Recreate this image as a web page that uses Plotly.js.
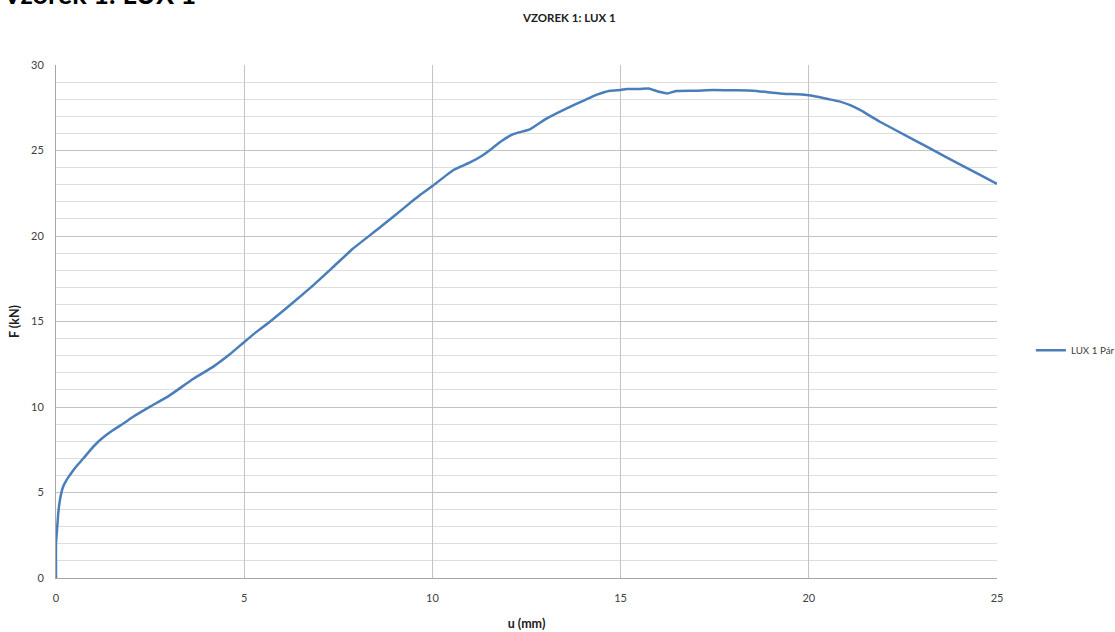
<!DOCTYPE html>
<html>
<head>
<meta charset="utf-8">
<script src="https://cdn.plot.ly/plotly-3.0.1.min.js"></script>
<style>html,body{margin:0;padding:0;background:#fff;overflow:hidden}#chart{width:1115px;height:632px}</style>
</head>
<body>
<div id="chart"></div>
<script>
// Displacement u (mm)
const uValues = [0, 0.0, 0.03, 0.06, 0.1, 0.15, 0.2, 0.28, 0.37, 0.46, 0.6, 0.73, 0.9, 1.08, 1.3, 1.52, 1.8, 2.05, 2.5, 3.0, 3.65, 4.18, 4.6, 4.98, 5.3, 5.69, 6.22, 6.84, 7.37, 7.9, 8.52, 9.0, 9.5, 9.67, 10.0, 10.56, 11.0, 11.35, 11.6, 11.8, 12.15, 12.59, 13.04, 13.57, 14.05, 14.35, 14.72, 15.0, 15.16, 15.5, 15.74, 15.87, 16.05, 16.24, 16.49, 17.0, 17.46, 18.0, 18.52, 19.23, 19.94, 20.3, 20.56, 20.83, 21.1, 21.36, 21.89, 22.78, 23.66, 24.55, 25.0];
// Force F (kN)
const fValues = [0, 2.0, 2.9, 3.8, 4.5, 5.05, 5.4, 5.73, 6.02, 6.3, 6.68, 7.0, 7.45, 7.88, 8.3, 8.65, 9.05, 9.43, 10.02, 10.65, 11.65, 12.36, 13.05, 13.76, 14.35, 15.0, 15.96, 17.13, 18.2, 19.28, 20.35, 21.2, 22.1, 22.4, 22.92, 23.86, 24.3, 24.74, 25.15, 25.5, 25.96, 26.24, 26.88, 27.47, 27.95, 28.25, 28.5, 28.54, 28.6, 28.6, 28.63, 28.54, 28.42, 28.34, 28.48, 28.5, 28.54, 28.52, 28.5, 28.34, 28.25, 28.12, 27.99, 27.86, 27.65, 27.37, 26.68, 25.64, 24.6, 23.57, 23.04];

const seriesName = 'LUX 1 Pár';
const chartTitle = 'VZOREK 1: LUX 1';
const pageHeading = 'Vzorek 1: LUX 1';
const xTitle = 'u (mm)';
const yTitle = 'F (kN)';

const font = 'Lato, "Liberation Sans", sans-serif';

const trace = {
  x: uValues, y: fValues, type: 'scatter', mode: 'lines', name: seriesName,
  line: {color: '#4a7ebb', width: 2.5, shape: 'spline', smoothing: 0.4}
};

const layout = {
  width: 1115, height: 632,
  margin: {l: 56, r: 118, t: 65, b: 54, autoexpand: false},
  paper_bgcolor: '#ffffff', plot_bgcolor: '#ffffff',
  font: {family: font, size: 11, color: '#404040'},
  showlegend: true,
  legend: {x: 1.036, xanchor: 'left', y: 0.444, yanchor: 'middle', font: {size: 9.8, color: '#404040'}, bgcolor: 'rgba(0,0,0,0)'},
  xaxis: {
    range: [0, 25], dtick: 5, tick0: 0,
    showgrid: true, gridcolor: '#c4c4c4', gridwidth: 1,
    showline: true, linecolor: '#a6a6a6', linewidth: 1,
    zeroline: false, ticks: '', ticklabelstandoff: 10,
    tickfont: {size: 11, color: '#404040'},
    title: {text: '<b>' + xTitle + '</b>', font: {size: 12.5, color: '#202020'}, standoff: 16}
  },
  yaxis: {
    range: [0, 30], dtick: 5, tick0: 0,
    showgrid: true, gridcolor: '#c4c4c4', gridwidth: 1,
    minor: {dtick: 1, showgrid: true, gridcolor: '#dedede', gridwidth: 1},
    showline: true, linecolor: '#a6a6a6', linewidth: 1,
    zeroline: false, ticks: '', ticklabelstandoff: 9,
    tickfont: {size: 11, color: '#404040'},
    title: {text: '<b>' + yTitle + '</b>', font: {size: 12.5, color: '#202020'}, standoff: 8}
  },
  annotations: [
    {text: '<b>' + chartTitle + '</b>', xref: 'paper', yref: 'paper', x: 0.545, y: 1.0925, xanchor: 'center', yanchor: 'middle', showarrow: false, font: {size: 11.5, color: '#202020', family: font}},
    {text: '<b>' + pageHeading + '</b>', xref: 'paper', yref: 'paper', x: -0.0595, y: 1.103, xanchor: 'left', yanchor: 'bottom', showarrow: false, font: {size: 27, color: '#000000', family: font}}
  ]
};

Plotly.newPlot('chart', [trace], layout, {displayModeBar: false, staticPlot: true});
</script>
</body>
</html>
